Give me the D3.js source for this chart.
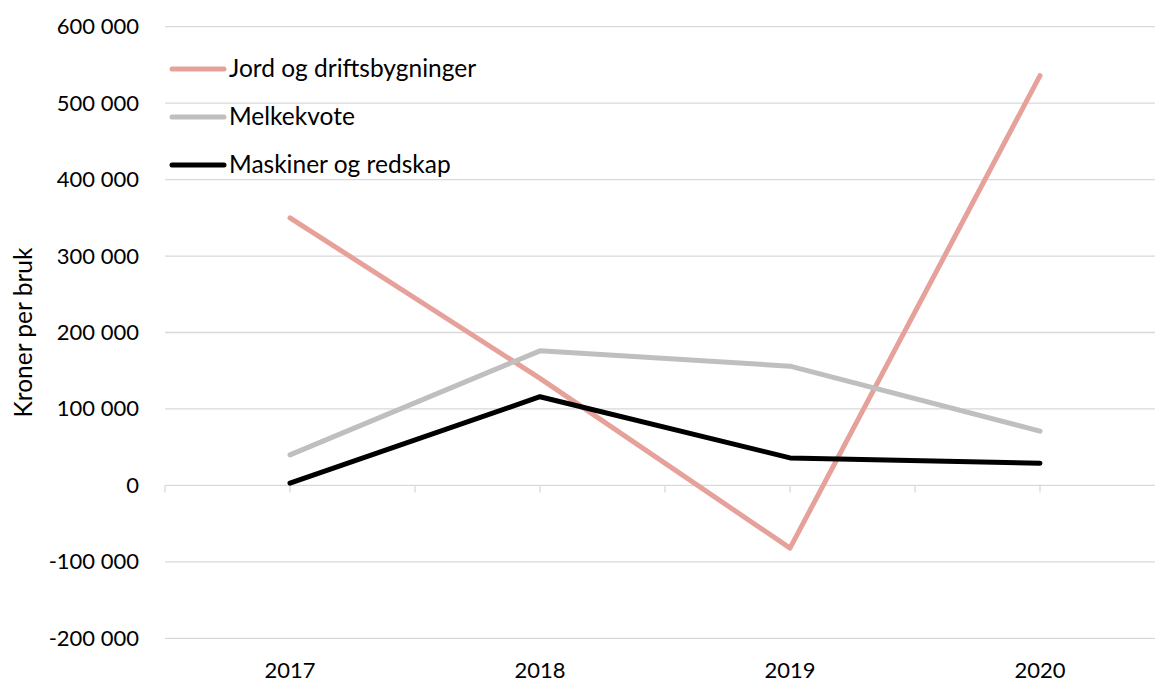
<!DOCTYPE html>
<html>
<head>
<meta charset="utf-8">
<script src="https://cdn.jsdelivr.net/npm/d3@7"></script>
<style>
  html, body { margin: 0; padding: 0; background: #fff; }
  svg { display: block; font-family: Lato, "Open Sans", sans-serif; }
</style>
</head>
<body>
<svg id="chart" width="1155" height="682"></svg>
<script>
const years = ["2017", "2018", "2019", "2020"];
const jord = [350000, 140000, -82000, 536000];
const melkekvote = [40000, 176000, 156000, 71000];
const maskiner = [3000, 116000, 36000, 29000];
const yTicks = [-200000, -100000, 0, 100000, 200000, 300000, 400000, 500000, 600000];
const seriesNames = ["Jord og driftsbygninger", "Melkekvote", "Maskiner og redskap"];
const seriesColors = ["#E6A19B", "#BFBFBF", "#000000"];

const series = [jord, melkekvote, maskiner].map((vals, i) => ({
  name: seriesNames[i], color: seriesColors[i], values: vals
}));

const svg = d3.select("#chart");
const x = d3.scaleBand().domain(years).range([165, 1165]);
const y = d3.scaleLinear().domain([-200000, 600000]).range([638.3, 26.7]);
const fmt = v => d3.format(",")(v).replace(/,/g, " ").replace("\u2212", "-");

// gridlines
svg.append("g").selectAll("line").data(yTicks).join("line")
  .attr("x1", 165).attr("x2", 1155)
  .attr("y1", d => y(d)).attr("y2", d => y(d))
  .attr("stroke", "#D9D9D9").attr("stroke-width", 1.3);

// y axis labels
const yAxis = d3.axisLeft(y).tickValues(yTicks).tickSize(0).tickPadding(0).tickFormat(fmt);
const gy = svg.append("g").attr("transform", "translate(139,0)").call(yAxis);
gy.select(".domain").remove();
gy.selectAll("text").attr("font-size", 22).attr("fill", "#000")
  .attr("font-family", "Lato, 'Open Sans', sans-serif");

// x-axis ticks at band boundaries and centers
const tickXs = [];
years.forEach(yr => { tickXs.push(x(yr)); tickXs.push(x(yr) + x.bandwidth() / 2); });
svg.append("g").selectAll("line").data(tickXs).join("line")
  .attr("x1", d => d).attr("x2", d => d)
  .attr("y1", y(0)).attr("y2", y(0) + 7)
  .attr("stroke", "#D9D9D9").attr("stroke-width", 1.3);

// x labels
const xAxis = d3.axisBottom(x).tickSize(0).tickPadding(0);
const gx = svg.append("g").attr("transform", "translate(0,678)").call(xAxis);
gx.select(".domain").remove();
gx.selectAll("text").attr("font-size", 22).attr("fill", "#000").attr("y", 0).attr("dy", 0)
  .attr("font-family", "Lato, 'Open Sans', sans-serif");

// y title
svg.append("text")
  .attr("transform", `translate(32,${(y(600000) + y(-200000)) / 2}) rotate(-90)`)
  .attr("text-anchor", "middle")
  .attr("font-size", 24.5)
  .text("Kroner per bruk");

// lines
const line = d3.line()
  .x((d, i) => x(years[i]) + x.bandwidth() / 2)
  .y(d => y(d));
svg.append("g").selectAll("path").data(series).join("path")
  .attr("d", d => line(d.values))
  .attr("fill", "none")
  .attr("stroke", d => d.color)
  .attr("stroke-width", 5)
  .attr("stroke-linecap", "round")
  .attr("stroke-linejoin", "round");

// legend
const legY = [69, 117, 165];
const leg = svg.append("g").selectAll("g").data(series).join("g")
  .attr("transform", (d, i) => `translate(0,${legY[i]})`);
leg.append("line").attr("x1", 172).attr("x2", 224).attr("y1", 0).attr("y2", 0)
  .attr("stroke", d => d.color).attr("stroke-width", 5).attr("stroke-linecap", "round");
leg.append("text").attr("x", 229).attr("y", 8)
  .attr("font-size", 24.5).text(d => d.name);
</script>
</body>
</html>
